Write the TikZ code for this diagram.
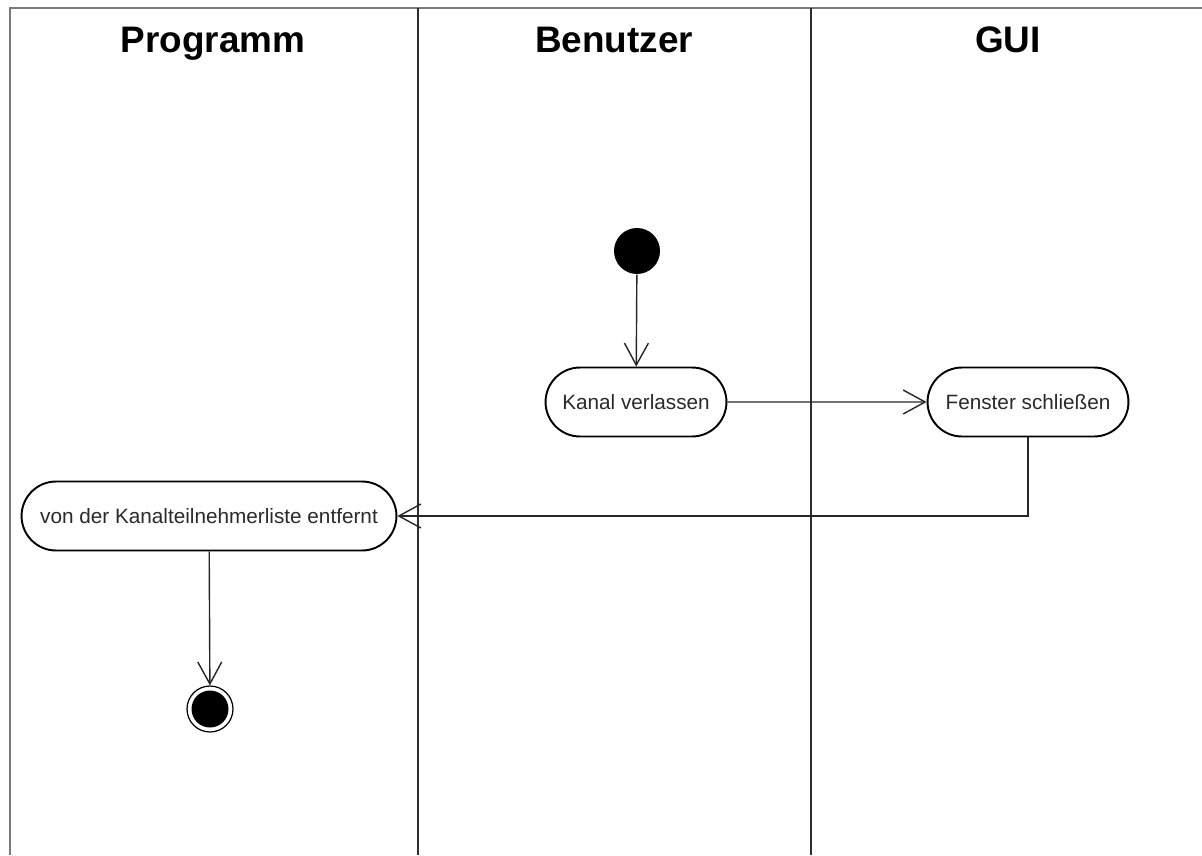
\documentclass[tikz,border=0pt]{standalone}
\usepackage{fontspec}
\setmainfont{Liberation Sans}
\usetikzlibrary{arrows.meta, positioning, shapes.misc}
\definecolor{cframe}{HTML}{7A7A7A}
\definecolor{clane}{HTML}{2E2E2E}
\definecolor{ctext}{HTML}{2A2A2A}
\tikzset{
  every picture/.style={line width=0.8pt},
  lane/.style={draw=clane, line width=1.6pt},
  frame/.style={draw=cframe, line width=1.7pt},
  lanetitle/.style={font=\fontsize{21}{24}\selectfont\bfseries, text=black, anchor=base},
  action/.style={rounded rectangle, draw=black, line width=1.1pt, fill=white, text=ctext,
    font=\fontsize{11.8}{14}\selectfont, minimum height=1.38cm, inner xsep=4pt},
  initial/.style={circle, fill=black, minimum size=0.92cm, inner sep=0pt},
  final/.style={circle, draw=black, line width=0.7pt, minimum size=0.92cm, inner sep=0pt,
    path picture={\fill[black] (path picture bounding box.center) circle (0.37cm);}},
  flow/.style={-{Straight Barb[length=0.44cm, width=0.48cm, line width=0.8pt]}, draw=black!85, line width=0.8pt},
}

\begin{document}
\begin{tikzpicture}[x=0.02cm, y=-0.02cm]
  \useasboundingbox (0,0) rectangle (1202,855);
  % swimlanes
  \draw[frame] (10,855) -- (10,8) -- (1202,8);
  \foreach \lx in {418, 811} \draw[lane] (\lx,8) -- (\lx,855);
  \node[lanetitle] (tprog) at (213,52) {Programm};
  \node[lanetitle] (tuser) at (614,52) {Benutzer};
  \node[lanetitle] (tgui) at (1008,52) {GUI};

  % actions
  \node[initial] (start) at (637,251) {};
  \node[action, minimum width=3.9cm] (leave) at (636,402) {Kanal verlassen};
  \node[action, minimum width=4.3cm] (close) at (1028,402) {Fenster schließen};
  \node[action, minimum width=7.78cm] (remove) at (209,516) {von der Kanalteilnehmerliste entfernt};
  \node[final] (stop) at (210,709) {};

  % transitions
  \draw[flow] (start) -- (leave);
  \draw[flow] (leave) -- (close);
  \draw[flow] (close.south) |- (remove.east);
  \draw[flow] (remove) -- (stop);
\end{tikzpicture}
\end{document}
